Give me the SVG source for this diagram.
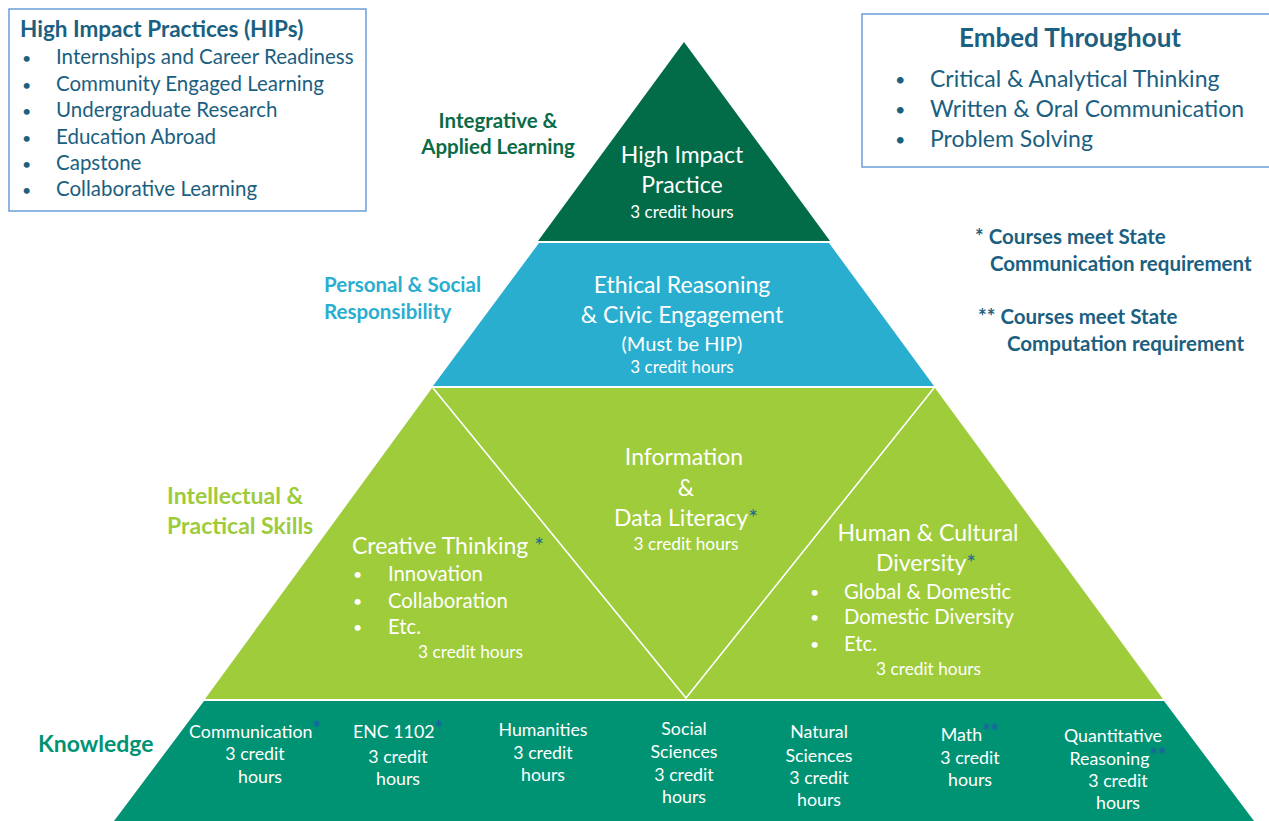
<svg xmlns="http://www.w3.org/2000/svg" width="1269" height="821" viewBox="0 0 1269 821">
<style>
text{font-family:Lato,"Open Sans","Liberation Sans",sans-serif}
.dt{fill:#1b6080}
.b{font-weight:bold}
.w{fill:#ffffff}
.ast{fill:#1b6a8c}
.bast{fill:#1a64a0;font-weight:bold}
.box{fill:#ffffff;stroke:#6a9fd8;stroke-width:1.5}
.sep{stroke:#ffffff;stroke-width:1.6;fill:none}
.mid{text-anchor:middle}
</style>
<rect width="1269" height="821" fill="#ffffff"/>

<g id="hips-box">
<rect class="box" x="9" y="9" width="357" height="202"/>
<text class="dt b" x="20" y="37" font-size="22.5">High Impact Practices (HIPs)</text>
<g class="dt" font-size="20.5">
<text x="22" y="64" font-size="16">•</text><text x="56" y="64">Internships and Career Readiness</text>
<text x="22" y="91" font-size="16">•</text><text x="56" y="91">Community Engaged Learning</text>
<text x="22" y="117" font-size="16">•</text><text x="56" y="117">Undergraduate Research</text>
<text x="22" y="144" font-size="16">•</text><text x="56" y="144">Education Abroad</text>
<text x="22" y="170" font-size="16">•</text><text x="56" y="170">Capstone</text>
<text x="22" y="196" font-size="16">•</text><text x="56" y="196">Collaborative Learning</text>
</g>
</g>

<g id="embed-box">
<rect class="box" x="862" y="14" width="430" height="153"/>
<text class="dt b mid" x="1070" y="47" font-size="26">Embed Throughout</text>
<g class="dt" font-size="23">
<text x="895" y="86" font-size="18">•</text><text x="930" y="87">Critical &amp; Analytical Thinking</text>
<text x="895" y="116" font-size="18">•</text><text x="930" y="117">Written &amp; Oral Communication</text>
<text x="895" y="146" font-size="18">•</text><text x="930" y="147">Problem Solving</text>
</g>
</g>

<g id="notes" class="dt b" font-size="20.5">
<text x="975" y="244">* Courses meet State</text>
<text x="990" y="271">Communication requirement</text>
<text x="978" y="324">** Courses meet State</text>
<text x="1007" y="351">Computation requirement</text>
</g>

<g id="tier-labels" class="b">
<text class="mid" x="498" y="128" font-size="20.5" fill="#0a6b46">Integrative &amp;</text>
<text class="mid" x="498" y="154" font-size="20.5" fill="#0a6b46">Applied Learning</text>
<text x="324" y="292" font-size="20.5" fill="#2aaed0">Personal &amp; Social</text>
<text x="324" y="319" font-size="20.5" fill="#2aaed0">Responsibility</text>
<text x="167" y="504" font-size="23" fill="#9ecb3c">Intellectual &amp;</text>
<text x="167" y="534" font-size="23" fill="#9ecb3c">Practical Skills</text>
<text x="38" y="752" font-size="23" fill="#009373">Knowledge</text>
</g>

<g id="tier-hip">
<polygon points="684,42 830,241 538,241" fill="#026b48"/>
<text class="w mid" x="682" y="163" font-size="23">High Impact</text>
<text class="w mid" x="682" y="193" font-size="23">Practice</text>
<text class="w mid" x="682" y="218" font-size="17">3 credit hours</text>
</g>

<g id="tier-ethical">
<polygon points="539,243 829,243 934,386 433,386" fill="#29aed0"/>
<text class="w mid" x="682" y="293" font-size="23">Ethical Reasoning</text>
<text class="w mid" x="682" y="323" font-size="23">&amp; Civic Engagement</text>
<text class="w mid" x="682" y="351" font-size="20">(Must be HIP)</text>
<text class="w mid" x="682" y="373" font-size="17">3 credit hours</text>
</g>

<g id="tier-skills">
<polygon points="432,388 935,388 1163,699 205,699" fill="#9ecc3b"/>
</g>

<g id="connectors">
<polyline class="sep" points="433,388 686,698 934,388"/>
<line class="sep" x1="325" y1="702" x2="324" y2="821"/>
<line class="sep" x1="471" y1="702" x2="470" y2="821"/>
<line class="sep" x1="612" y1="702" x2="612" y2="821"/>
<line class="sep" x1="754" y1="702" x2="754" y2="821"/>
<line class="sep" x1="894" y1="702" x2="894" y2="821"/>
<line class="sep" x1="1036" y1="702" x2="1036" y2="821"/>
</g>

<g id="node-creative">
<text class="w" x="352" y="554" font-size="23">Creative Thinking <tspan class="ast">*</tspan></text>
<g class="w" font-size="20.3">
<text x="353" y="580" font-size="16">•</text><text x="388" y="581">Innovation</text>
<text x="353" y="607" font-size="16">•</text><text x="388" y="608">Collaboration</text>
<text x="353" y="633" font-size="16">•</text><text x="388" y="634">Etc.</text>
</g>
<text class="w" x="418" y="658" font-size="17.3">3 credit hours</text>
</g>

<g id="node-info">
<text class="w mid" x="684" y="465" font-size="23">Information</text>
<text class="w mid" x="686" y="496" font-size="23">&amp;</text>
<text class="w mid" x="686" y="526" font-size="23">Data Literacy<tspan class="ast">*</tspan></text>
<text class="w mid" x="686" y="550" font-size="17.3">3 credit hours</text>
</g>

<g id="node-human">
<text class="w mid" x="928" y="541" font-size="23">Human &amp; Cultural</text>
<text class="w mid" x="926" y="571" font-size="23">Diversity<tspan class="ast">*</tspan></text>
<g class="w" font-size="20.3">
<text x="810" y="598" font-size="16">•</text><text x="844" y="599">Global &amp; Domestic</text>
<text x="810" y="623" font-size="16">•</text><text x="844" y="624">Domestic Diversity</text>
<text x="810" y="650" font-size="16">•</text><text x="844" y="651">Etc.</text>
</g>
<text class="w" x="876" y="675" font-size="17.3">3 credit hours</text>
</g>

<g id="tier-knowledge">
<polygon points="204,701 1164,701 1254,821 114,821" fill="#009373"/>
</g>

<g id="knowledge-cells" class="w" font-size="17.8" text-anchor="middle">
<g id="cell-communication">
<text x="255" y="738">Communication<tspan class="bast" dy="-2" font-size="20">*</tspan></text>
<text x="255" y="760">3 credit</text>
<text x="260" y="783">hours</text>
</g>
<g id="cell-enc">
<text x="398" y="738">ENC 1102<tspan class="bast" dy="-2" font-size="20">*</tspan></text>
<text x="398" y="763">3 credit</text>
<text x="398" y="785">hours</text>
</g>
<g id="cell-humanities">
<text x="543" y="736">Humanities</text>
<text x="543" y="759">3 credit</text>
<text x="543" y="781">hours</text>
</g>
<g id="cell-social">
<text x="684" y="735">Social</text>
<text x="684" y="758">Sciences</text>
<text x="684" y="781">3 credit</text>
<text x="684" y="803">hours</text>
</g>
<g id="cell-natural">
<text x="819" y="738">Natural</text>
<text x="819" y="762">Sciences</text>
<text x="819" y="784">3 credit</text>
<text x="819" y="806">hours</text>
</g>
<g id="cell-math">
<text x="970" y="741">Math<tspan class="bast" dy="-2" font-size="20">**</tspan></text>
<text x="970" y="764">3 credit</text>
<text x="970" y="786">hours</text>
</g>
<g id="cell-quant">
<text x="1113" y="742">Quantitative</text>
<text x="1118" y="765">Reasoning<tspan class="bast" dy="-2" font-size="20">**</tspan></text>
<text x="1118" y="787">3 credit</text>
<text x="1118" y="809">hours</text>
</g>
</g>
</svg>
